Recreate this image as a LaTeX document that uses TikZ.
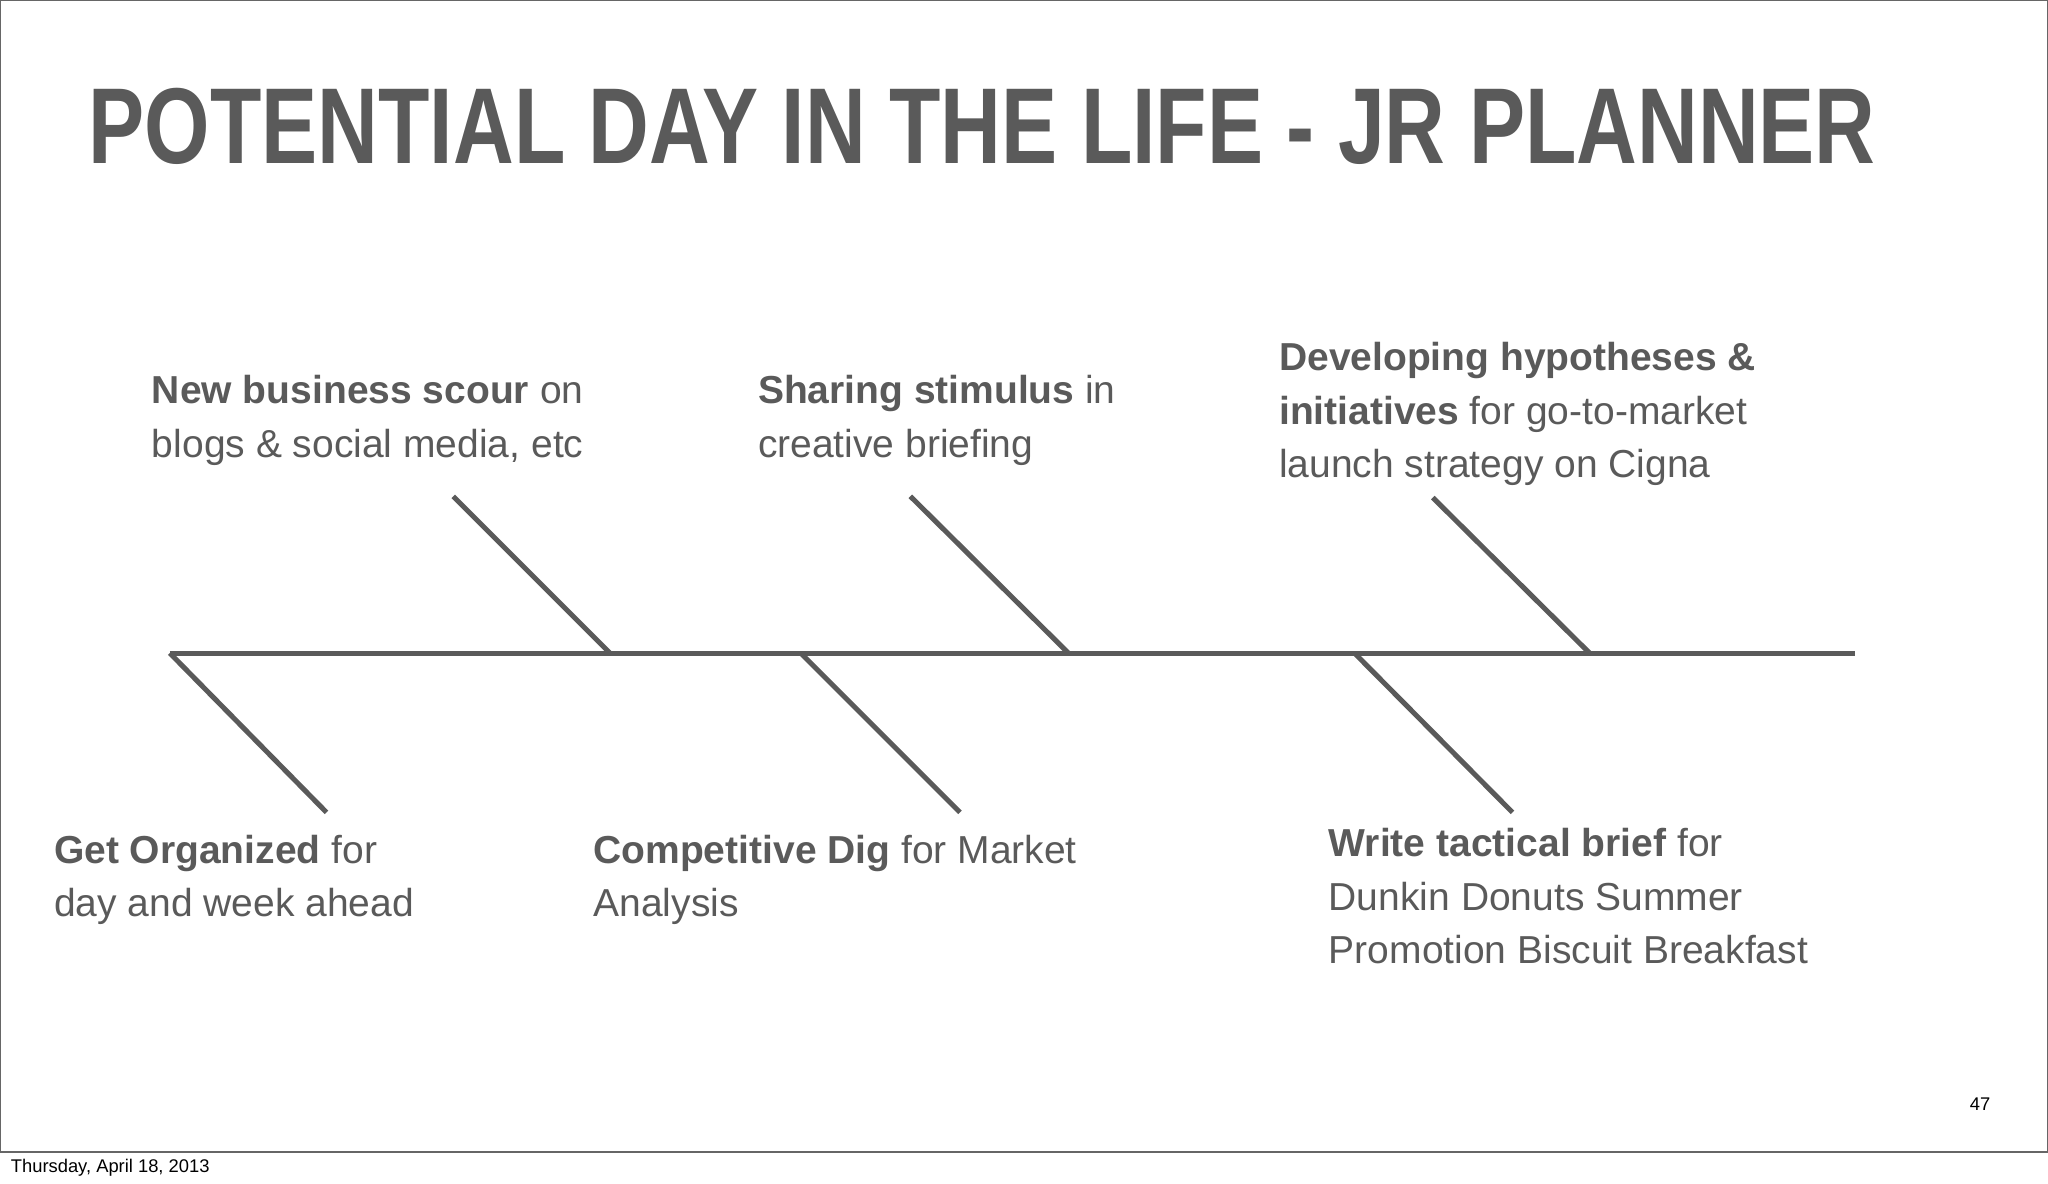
\documentclass[tikz,border=0pt]{standalone}
\usepackage{fontspec}
\setmainfont{Liberation Sans}
\newfontfamily\titlefont[FakeStretch=0.78]{Liberation Sans}
\begin{document}
\definecolor{ink}{HTML}{5A5A5A}
\begin{tikzpicture}[x=0.02cm,y=-0.02cm,
  bone/.style={draw=ink,line width=2.2pt},
  lab/.style={anchor=north west,inner sep=0pt,align=left,text=ink,font=\fontsize{17}{23.3}\selectfont}]
\useasboundingbox (0,0) rectangle (1568,906);
\draw[black!60,line width=0.6pt] (0.5,0.5) rectangle (1567.5,882);
\node[text=ink,font=\titlefont\bfseries\fontsize{47}{50}\selectfont] (title) at (752,97) {POTENTIAL DAY IN THE LIFE - JR PLANNER};
\coordinate (s0) at (130,500); \coordinate (s1) at (1420,500);
\draw[bone] (s0) -- (s1);
\coordinate (u1) at (347,380); \coordinate (u1b) at (467,500);
\coordinate (u2) at (697,380); \coordinate (u2b) at (818,500);
\coordinate (u3) at (1097,381); \coordinate (u3b) at (1217,500);
\coordinate (d1) at (250,622); 
\coordinate (d2a) at (613,500); \coordinate (d2) at (735,622);
\coordinate (d3a) at (1037,500); \coordinate (d3) at (1158,622);
\draw[bone] (u1) -- (u1b); \draw[bone] (u2) -- (u2b); \draw[bone] (u3) -- (u3b);
\draw[bone] (s0) -- (d1); \draw[bone] (d2a) -- (d2); \draw[bone] (d3a) -- (d3);
\node[lab] (t1) at (116,287) {\textbf{New business scour} on\\blogs \& social media, etc};
\node[lab] (t2) at (580,287) {\textbf{Sharing stimulus} in\\creative briefing};
\node[lab] (t3) at (979,262) {\textbf{Developing hypotheses \&}\\\textbf{initiatives} for go-to-market\\launch strategy on Cigna};
\node[lab] (b1) at (41,639) {\textbf{Get Organized} for\\day and week ahead};
\node[lab] (b2) at (454,639) {\textbf{Competitive Dig} for Market\\Analysis};
\node[lab] (b3) at (1017,634) {\textbf{Write tactical brief} for\\Dunkin Donuts Summer\\Promotion Biscuit Breakfast};
\node[font=\fontsize{8}{10}\selectfont] (pg) at (1516,845) {47};
\node[anchor=west,inner sep=0pt,font=\fontsize{8}{10}\selectfont] (date) at (8,894) {Thursday, April 18, 2013};
\end{tikzpicture}
\end{document}
